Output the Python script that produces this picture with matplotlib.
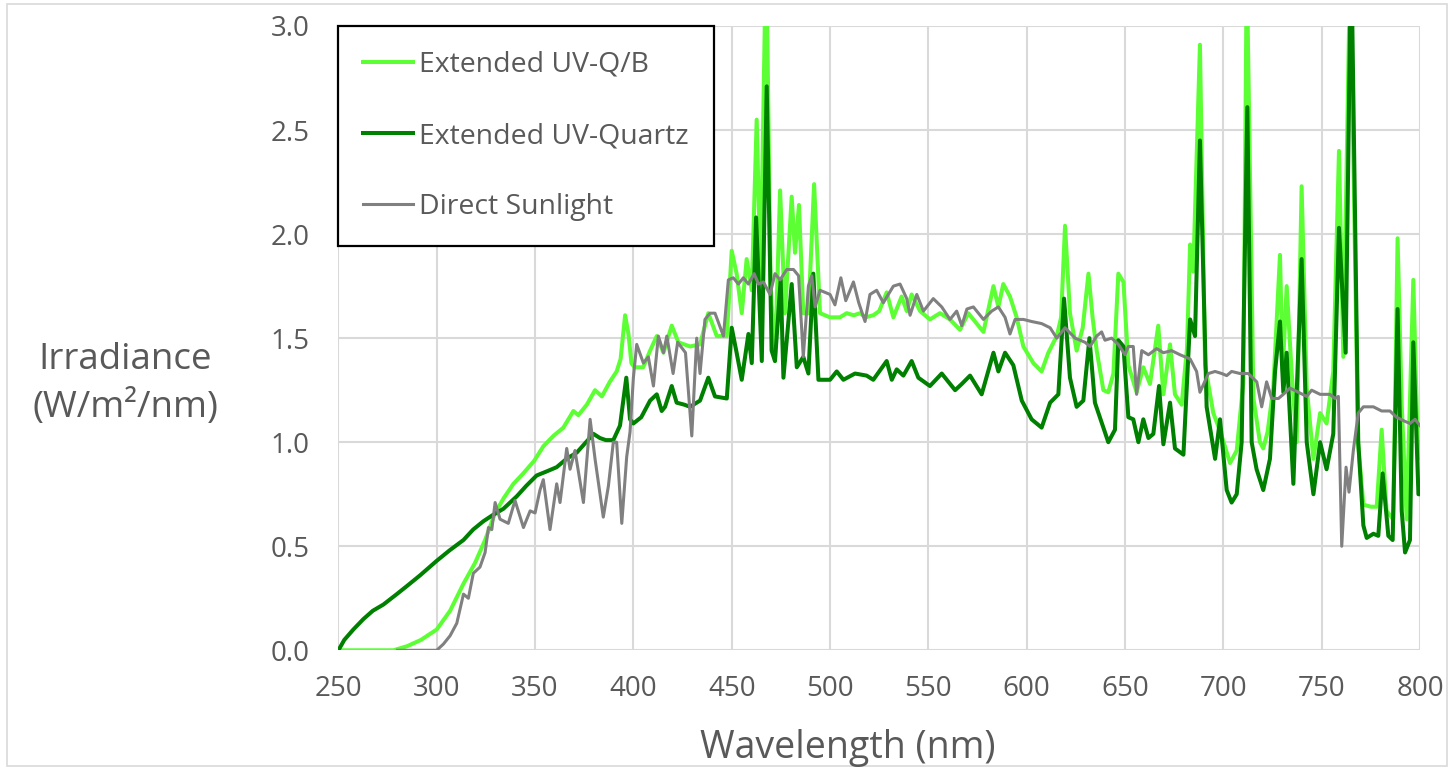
import matplotlib
matplotlib.use("Agg")
from matplotlib import pyplot as plt
from matplotlib.patches import Rectangle

plt.rcParams['font.family'] = ['Open Sans', 'DejaVu Sans']

# Extended UV-Q/B
qb_nm = [250, 265, 278, 285, 292, 300, 306.8, 313.6, 319.5, 324.6, 329.7, 334, 339, 344, 349.5,
         354.2, 359.3, 364.4, 369.5, 372, 376.3, 380.5, 384, 388, 391.5, 393.5, 395.8, 397.5, 399,
         400.5, 405, 408.5, 411.9, 415.3, 419.5, 422.9, 428.8, 433.9, 438.1, 442.4, 447.5, 450,
         452.5, 455.1, 457.6, 460.2, 462.7, 464.7, 467.5, 469.8, 472, 474.6, 477.1, 480.5, 482.2,
         484.2, 486.4, 489, 491.9, 494.9, 500, 505, 508.5, 512, 515.3, 518, 522, 525, 528.8, 532.2,
         536.4, 539, 541.5, 545.8, 550.8, 555.9, 561, 566.1, 570.3, 574.6, 578, 583.1, 585.6, 588.1,
         591.5, 594.9, 598.3, 603.4, 607.6, 611, 615.3, 617.5, 619.5, 622, 625.4, 628.5, 631.4,
         633.5, 635.6, 639, 641.5, 644.1, 646.6, 649.2, 651.7, 655.9, 659.3, 662.7, 666.9, 669.5,
         672.9, 675.4, 678.8, 681.5, 683.1, 684.7, 688.1, 690.7, 694.9, 698.5, 703.4, 706.8, 710.2,
         711.9, 715.3, 718.6, 720.3, 722.5, 725.4, 728.8, 730.2, 732.2, 734.7, 737.3, 739.8, 742.4,
         745.8, 749.2, 752.5, 755.9, 758.8, 761, 764.5, 768.5, 771.2, 775, 778, 780.5, 783, 786.4,
         788.6, 790.7, 793.2, 796.6, 799, 800]
qb_val = [0, 0, 0, 0.02, 0.05, 0.10, 0.19, 0.32, 0.42, 0.53, 0.66, 0.73, 0.80, 0.85, 0.91,
          0.98, 1.03, 1.07, 1.15, 1.13, 1.18, 1.25, 1.22, 1.29, 1.34, 1.40, 1.61, 1.52, 1.38,
          1.36, 1.36, 1.44, 1.51, 1.43, 1.56, 1.48, 1.46, 1.47, 1.62, 1.51, 1.51, 1.92,
          1.81, 1.62, 1.88, 1.73, 2.55, 1.78, 3.4, 1.75, 1.39, 2.21, 1.62, 2.18, 1.91,
          2.14, 1.62, 1.62, 2.24, 1.62, 1.60, 1.60, 1.62, 1.61, 1.62, 1.60, 1.61, 1.63, 1.72, 1.60,
          1.70, 1.63, 1.71, 1.63, 1.59, 1.62, 1.59, 1.54, 1.62, 1.57, 1.53, 1.75, 1.65, 1.76,
          1.70, 1.60, 1.46, 1.38, 1.34, 1.43, 1.51, 1.60, 2.04, 1.62, 1.44, 1.55, 1.81,
          1.60, 1.44, 1.25, 1.24, 1.33, 1.81, 1.77, 1.37, 1.24, 1.36, 1.28, 1.56, 1.23,
          1.47, 1.23, 1.18, 1.45, 1.95, 1.82, 2.91, 1.37, 1.14, 1.05, 0.90, 0.96, 1.29,
          3.3, 1.21, 1.00, 0.97, 1.05, 1.26, 1.90, 1.34, 1.75, 1.34, 1.00, 2.23, 1.26,
          0.92, 1.14, 1.09, 1.34, 2.40, 1.41, 3.3, 1.00, 0.70, 0.69, 0.69, 1.06, 0.67, 0.63,
          1.98, 1.18, 0.63, 1.78, 0.92, 1.00]

# Extended UV-Quartz
quartz_nm = [250, 253, 257.6, 262.7, 267.5, 272.9, 279.7, 285, 291.5, 300, 306.5, 313.6, 318.5,
             323.7, 328.5, 333.9, 340.7, 345.5, 350.8, 356, 361, 366, 371.2, 375, 379.7, 383, 386,
             389.8, 393.2, 396.4, 398.3, 400, 404, 408.5, 411.9, 414.4, 416.1, 419.5, 422, 426,
             428.8, 433.9, 438.1, 441.5, 447.5, 450, 452.5, 455.1, 458.5, 460.2, 462.4, 465.3,
             467.8, 470.3, 472, 474.9, 476.3, 480.5, 483.1, 486.4, 489, 491.5, 494.1, 500, 503.4,
             506.8, 512.7, 518.6, 522, 528.8, 531.4, 533.9, 537.3, 541.5, 544.9, 550.8, 556.8,
             563.6, 567, 571.2, 577.1, 583.1, 585.6, 589, 593.2, 597.5, 602.5, 607.6, 611.9, 616.1,
             619, 622, 625.4, 628.8, 631.9, 634.7, 639, 641.5, 644.9, 646.6, 649.2, 651.7, 654.2,
             656.8, 659.3, 661.9, 664.4, 667.3, 669.5, 672.9, 675.4, 679.7, 683.1, 685.6, 688.1,
             691.5, 695.8, 698.3, 701.7, 704.2, 706.8, 709.3, 712.2, 714.4, 716.9, 720.3, 723.7,
             726.3, 728.8, 730.5, 732.2, 735.6, 739.8, 742.4, 745.8, 749.2, 752.5, 755.9, 758.8,
             762.2, 765, 768.6, 771.2, 772.9, 776.3, 778.8, 781, 783.9, 786.1, 788.6, 790.7, 792.4,
             794.9, 796.6, 799.2, 800]
quartz_val = [0.0, 0.05, 0.10, 0.15, 0.19, 0.22, 0.27, 0.31, 0.36, 0.43, 0.48, 0.53, 0.58,
              0.62, 0.65, 0.68, 0.74, 0.79, 0.84, 0.86, 0.88, 0.92, 0.95, 0.99, 1.04, 1.02, 1.01,
              1.01, 1.08, 1.31, 1.11, 1.09, 1.12, 1.20, 1.23, 1.15, 1.17, 1.27, 1.19, 1.18,
              1.17, 1.20, 1.31, 1.22, 1.21, 1.55, 1.43, 1.30, 1.52, 1.38, 2.08, 1.39,
              2.71, 1.44, 1.39, 1.78, 1.31, 1.76, 1.36, 1.41, 1.33, 1.81, 1.30, 1.30, 1.34,
              1.30, 1.33, 1.32, 1.30, 1.39, 1.30, 1.35, 1.32, 1.39, 1.31, 1.27, 1.33,
              1.25, 1.28, 1.32, 1.23, 1.43, 1.34, 1.43, 1.37, 1.20, 1.11, 1.07, 1.19, 1.23,
              1.69, 1.31, 1.17, 1.20, 1.50, 1.19, 1.07, 1.00, 1.06, 1.49, 1.46, 1.12, 1.11,
              1.00, 1.11, 1.02, 1.04, 1.27, 0.99, 1.19, 0.97, 0.94, 1.59, 1.51, 2.45,
              1.17, 0.92, 1.11, 0.77, 0.71, 0.75, 1.00, 2.61, 1.00, 0.87, 0.77, 0.92,
              1.34, 1.58, 1.24, 1.43, 0.80, 1.88, 1.00, 0.75, 1.00, 0.87, 1.04, 2.03,
              1.43, 3.4, 1.00, 0.60, 0.54, 0.56, 0.55, 0.85, 0.55, 0.53, 1.64, 0.67, 0.47,
              0.53, 1.48, 0.75, 0.75]

# Direct Sunlight
sun_nm = [280, 290, 300, 303.4, 306.8, 310.2, 313.6, 316.1, 318.6, 322, 324.6, 326.3, 328, 329.7,
          332.2, 336.4, 339.8, 344.1, 347.5, 350, 352.5, 354.2, 357.6, 361, 362.7, 366.1, 367.8,
          370.3, 374.6, 378, 380.5, 384.7, 387.3, 389.8, 391.5, 394.1, 396.6, 398.3, 400, 401.7,
          405.1, 407.6, 410.2, 412.7, 415.3, 417, 420.2, 422.5, 426.5, 429.7, 432.2, 433.9, 436.4,
          439, 441.5, 445.8, 448.3, 450.8, 453.4, 455.9, 458.5, 461.4, 463.6, 466.1, 469.5, 472,
          474.6, 478, 481.4, 484, 486.4, 489, 490.7, 492.4, 494.9, 500, 502.5, 505.5, 508, 511.9,
          514.6, 517.8, 520.3, 523.7, 527.1, 532.2, 535.6, 539, 540.7, 544.1, 547.5, 552.5, 556.8,
          561, 564.4, 567, 569.6, 572.9, 578, 582.2, 585.6, 589, 591.5, 594.1, 598.3, 602.5, 607.6,
          611.9, 615.3, 619.5, 624.6, 629.7, 632.2, 635.6, 638.1, 639.8, 643.2, 646.6, 650, 651.7,
          654.2, 655.9, 658.5, 661.9, 666.1, 669.5, 673.7, 678, 683.1, 686.4, 688.1, 692.4, 695.8,
          699.2, 701.7, 704.2, 708.5, 712.7, 717, 719.5, 722, 724.6, 728, 730.5, 733.9, 738.1,
          742.4, 744.9, 749.2, 754.2, 756.8, 758.5, 760.2, 762.4, 763.9, 766.1, 768.6, 771.2,
          776.3, 780.5, 784.7, 788.1, 792.4, 794.9, 797.5, 800]
sun_val = [0, 0, 0, 0.03, 0.07, 0.13, 0.27, 0.25, 0.37, 0.40, 0.47, 0.59, 0.58, 0.71,
           0.63, 0.61, 0.72, 0.59, 0.67, 0.66, 0.77, 0.82, 0.58, 0.80, 0.71, 0.97, 0.87,
           0.96, 0.71, 1.11, 0.92, 0.64, 0.79, 1.00, 1.00, 0.61, 0.93, 1.05, 1.31, 1.47,
           1.38, 1.41, 1.27, 1.51, 1.43, 1.51, 1.33, 1.48, 1.43, 1.03, 1.50, 1.33, 1.59,
           1.62, 1.62, 1.51, 1.78, 1.79, 1.76, 1.79, 1.76, 1.81, 1.76, 1.77, 1.71, 1.81,
           1.78, 1.83, 1.83, 1.80, 1.41, 1.75, 1.80, 1.65, 1.73, 1.71, 1.66, 1.79, 1.68, 1.77,
           1.67, 1.58, 1.71, 1.73, 1.67, 1.75, 1.76, 1.69, 1.61, 1.71, 1.63, 1.69, 1.65,
           1.59, 1.63, 1.56, 1.64, 1.65, 1.59, 1.63, 1.65, 1.60, 1.52, 1.59, 1.59, 1.58, 1.57,
           1.55, 1.50, 1.55, 1.50, 1.48, 1.46, 1.51, 1.53, 1.49, 1.50, 1.47, 1.42, 1.46,
           1.46, 1.23, 1.44, 1.42, 1.45, 1.43, 1.44, 1.42, 1.40, 1.34, 1.24, 1.33, 1.34,
           1.33, 1.32, 1.34, 1.33, 1.33, 1.29, 1.17, 1.29, 1.21, 1.21, 1.23, 1.26, 1.24,
           1.22, 1.25, 1.23, 1.23, 1.21, 1.22, 0.50, 0.88, 0.76, 0.96, 1.14, 1.17,
           1.17, 1.15, 1.15, 1.12, 1.10, 1.09, 1.11, 1.08]

x_ticks = [250, 300, 350, 400, 450, 500, 550, 600, 650, 700, 750, 800]
y_ticks = [0.0, 0.5, 1.0, 1.5, 2.0, 2.5, 3.0]

text_color = "#595959"

fig = plt.figure(figsize=(14.54, 7.70), dpi=100)
ax = fig.add_axes([338.4 / 1454, 1 - 650.3 / 770, 1081.6 / 1454, 624.3 / 770])

ax.plot(qb_nm, qb_val, color="#5CFF33", lw=2.9, label="Extended UV-Q/B", zorder=3)
ax.plot(quartz_nm, quartz_val, color="#008000", lw=2.9, label="Extended UV-Quartz", zorder=4)
ax.plot(sun_nm, sun_val, color="#808080", lw=2.2, label="Direct Sunlight", zorder=5)

ax.set_xlim(250, 800)
ax.set_ylim(0, 3.0)
ax.set_xticks(x_ticks)
ax.set_yticks(y_ticks)
ax.set_yticklabels(["%.1f" % v for v in y_ticks])
ax.tick_params(axis="both", length=0, labelsize=20, labelcolor=text_color)
ax.tick_params(axis="x", pad=18)
ax.tick_params(axis="y", pad=21)
ax.grid(True, color="#D9D9D9", lw=1.5)
ax.set_axisbelow(True)
for s in ax.spines.values():
    s.set_visible(False)

leg = ax.legend(loc="upper left", bbox_to_anchor=(0, 1), borderaxespad=0, fontsize=20.4,
                frameon=True, fancybox=False, framealpha=1, edgecolor="black",
                handlelength=1.77, handletextpad=0.2, labelspacing=1.52, borderpad=0.88)
leg.get_frame().set_linewidth(1.6)
leg.set_zorder(10)
for t in leg.get_texts():
    t.set_color(text_color)

fig.text(125 / 1454, 1 - 384 / 770, "Irradiance\n(W/m²/nm)", ha="center", va="center",
         fontsize=26.5, color=text_color, linespacing=1.41)
fig.text(848 / 1454, 1 - 748 / 770, "Wavelength (nm)", ha="center", va="center",
         fontsize=27, color=text_color)

fig.patches.append(Rectangle((7 / 1454, 4 / 770), 1440 / 1454, 762 / 770, transform=fig.transFigure,
                             fill=False, edgecolor="#D9D9D9", lw=1.2))

fig.savefig("out.png", dpi=100)
